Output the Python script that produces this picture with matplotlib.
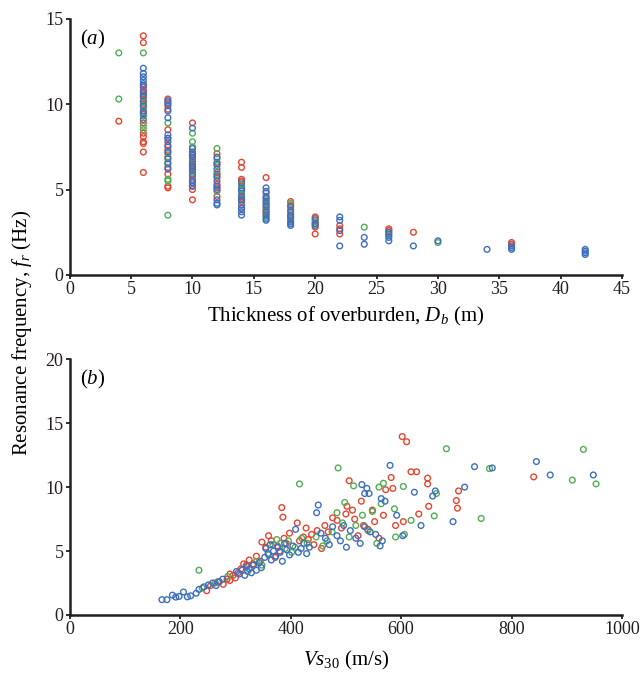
import matplotlib
matplotlib.use('Agg')
import matplotlib.pyplot as plt

# Global font settings (Times-like serif)
plt.rcParams['font.family'] = 'serif'
plt.rcParams['font.serif'] = ['Liberation Serif']
plt.rcParams['mathtext.fontset'] = 'custom'
plt.rcParams['mathtext.rm'] = 'Liberation Serif'
plt.rcParams['mathtext.it'] = 'Liberation Serif:italic'

RED = '#e5452f'
GREEN = '#52ad55'
BLUE = '#3d6fc0'

# ---- Panel (a): thickness of overburden (m) vs resonance frequency (Hz)
a_red_x = [4,
           6, 6, 6, 6, 6, 6, 6, 6, 6, 6, 6, 6, 6, 6, 6,
           8, 8, 8, 8, 8, 8, 8, 8, 8, 8, 8, 8,
           10, 10, 10, 10, 10, 10, 10, 10, 10, 10,
           12, 12, 12, 12, 12, 12, 12,
           14, 14, 14, 14, 14, 14, 14, 14,
           16, 16, 16, 16, 16,
           18, 18, 18, 18,
           20, 20, 20, 20, 20,
           22, 22, 22,
           26, 26, 28, 36, 36]
a_red_y = [9.0,
           14.0, 13.6, 11.1, 10.6, 10.4, 10.0, 8.9, 8.3, 8.1, 7.8, 7.7, 7.2, 6.0, 10.8, 9.4,
           10.3, 10.0, 9.7, 8.5, 8.0, 7.6, 7.3, 6.9, 6.3, 5.9, 5.2, 5.1,
           8.9, 7.1, 6.8, 6.5, 6.2, 5.9, 5.6, 5.2, 5.0, 4.4,
           7.1, 6.6, 6.0, 5.7, 5.3, 5.1, 4.6,
           6.6, 6.3, 5.6, 5.5, 5.0, 4.5, 4.3, 3.9,
           5.7, 4.8, 4.2, 3.8, 3.6,
           4.3, 4.1, 3.7, 3.3,
           3.4, 3.2, 3.0, 2.8, 2.4,
           2.9, 2.7, 2.4,
           2.7, 2.6, 2.5, 1.9, 1.8]

a_green_x = [4, 4,
             6, 6, 6, 6, 6, 6,
             8, 8, 8, 8, 8, 8,
             10, 10, 10, 10, 10,
             12, 12, 12, 12, 12,
             14, 14, 14, 14,
             16, 16, 16,
             18, 18, 18,
             20, 24, 26, 30]
a_green_y = [13.0, 10.3,
             13.0, 10.1, 9.8, 9.3, 8.7, 8.5,
             8.9, 7.1, 6.6, 5.6, 5.5, 3.5,
             8.3, 7.8, 7.5, 6.7, 6.0,
             7.4, 6.8, 6.4, 5.9, 4.9,
             5.3, 5.0, 4.7, 4.4,
             4.4, 3.9, 3.4,
             4.2, 3.6, 3.2,
             3.1, 2.8, 2.3, 1.9]

a_blue_x = [6, 6, 6, 6, 6, 6, 6, 6, 6, 6, 6, 6, 6,
            8, 8, 8, 8, 8, 8, 8, 8, 8, 8, 8, 8, 8,
            10, 10, 10, 10, 10, 10, 10, 10, 10, 10, 10, 10, 10,
            12, 12, 12, 12, 12, 12, 12, 12, 12, 12,
            14, 14, 14, 14, 14, 14, 14, 14, 14,
            16, 16, 16, 16, 16, 16, 16, 16, 16, 16, 16,
            18, 18, 18, 18, 18, 18, 18,
            20, 20, 20,
            22, 22, 22, 22,
            24, 24,
            26, 26, 26, 26,
            28, 30, 34,
            36, 36, 36,
            42, 42, 42, 42]
a_blue_y = [12.1, 11.8, 11.6, 11.4, 11.2, 11.0, 10.7, 10.5, 10.2, 9.9, 9.6, 9.5, 9.1,
            10.2, 10.1, 9.9, 9.6, 9.2, 8.2, 8.0, 7.8, 7.5, 7.2, 6.8, 6.5, 6.2,
            8.6, 7.4, 7.2, 7.0, 6.9, 6.6, 6.4, 6.3, 6.1, 5.8, 5.5, 5.4, 5.2,
            6.9, 6.5, 6.2, 5.8, 5.5, 5.2, 5.0, 4.4, 4.2, 4.1,
            5.4, 5.1, 4.9, 4.6, 4.4, 4.1, 3.9, 3.7, 3.5,
            5.1, 4.9, 4.6, 4.5, 4.3, 4.1, 4.0, 3.7, 3.5, 3.3, 3.2,
            4.0, 3.8, 3.5, 3.4, 3.1, 3.0, 2.9,
            3.3, 3.0, 2.9,
            3.4, 3.2, 2.6, 1.7,
            2.2, 1.8,
            2.5, 2.4, 2.2, 2.0,
            1.7, 2.0, 1.5,
            1.7, 1.6, 1.5,
            1.5, 1.4, 1.3, 1.2]

# ---- Panel (b): Vs30 (m/s) vs resonance frequency (Hz)
b_red_x = [248, 255, 268, 278, 285, 290, 296, 300, 305, 290,
           310, 315, 320, 325, 332, 338, 345, 348, 355, 360, 365, 372, 376, 380,
           388, 384, 386, 392, 398, 412, 416, 423, 428, 432, 438, 442, 448, 456,
           462, 468, 476, 484, 492, 500, 502, 506, 512, 516, 522, 528, 532, 540,
           548, 552, 560, 568, 572, 582, 585, 590, 602, 610, 618, 628, 648, 648,
           650, 700, 702, 704, 632, 604, 840]
b_red_y = [1.9, 2.3, 2.6, 2.4, 2.8, 2.7, 3.1, 2.9, 3.3, 3.2,
           3.6, 4.0, 3.9, 4.3, 4.0, 4.6, 4.2, 5.7, 5.3, 6.2, 5.8, 4.5, 5.4, 5.0,
           6.0, 8.4, 7.65, 5.6, 6.4, 7.2, 5.8, 6.1, 6.8, 5.9, 6.3, 5.5, 6.6, 5.2,
           7.0, 6.5, 7.6, 7.4, 6.8, 7.9, 8.5, 10.5, 8.2, 7.5, 6.2, 8.9, 7.0, 6.7,
           8.2, 7.3, 6.0, 7.8, 9.8, 10.75, 9.9, 7.0, 13.95, 13.55, 11.2, 11.2, 10.7, 10.25,
           8.5, 8.95, 8.35, 9.7, 7.9, 7.3, 10.8]

b_green_x = [234, 240, 264, 286,
             322, 338, 348, 360, 368, 375, 382, 390, 396, 402, 408, 416, 420, 430,
             446, 458, 466, 475, 484, 486, 494, 498, 506, 514, 518, 530, 540, 548,
             556, 560, 564, 568, 588, 590, 604, 606, 618, 660, 664, 682, 745, 760,
             910, 930, 953]
b_green_y = [3.5, 2.1, 2.5, 3.0,
             3.4, 4.2, 3.9, 4.7, 5.5, 5.9, 5.6, 5.2, 5.8, 4.9, 5.3, 10.25, 6.0, 5.6,
             6.1, 5.4, 5.8, 6.5, 8.0, 11.5, 7.2, 8.8, 6.1, 10.1, 7.0, 7.8, 6.6, 8.1,
             5.6, 10.0, 8.7, 10.3, 8.3, 6.1, 10.05, 6.3, 7.4, 7.75, 9.5, 13.0, 7.55, 11.45,
             10.55, 12.95, 10.25]

b_blue_x = [167, 176, 186, 192, 198, 206, 213, 219, 229, 234, 243, 251, 259, 265, 271, 277,
            302, 307, 312, 317, 321, 325, 329, 333, 338, 343, 347, 353, 355, 359, 363, 365,
            369, 373, 377, 381, 385, 389, 393, 398, 404, 409, 414, 419, 424, 429, 434,
            447, 450, 455, 463, 470, 476, 484, 490, 496, 501, 508, 518, 526, 534, 544,
            554, 562, 566, 529, 534, 538, 542, 564, 571, 580, 592, 603, 624, 636, 657,
            662, 694, 715, 733, 765, 845, 870, 948]
b_blue_y = [1.2, 1.2, 1.55, 1.4, 1.45, 1.8, 1.42, 1.5, 1.7, 2.0, 2.2, 2.35, 2.5, 2.3, 2.6, 2.8,
            3.4, 3.2, 3.5, 3.1, 3.8, 3.6, 3.3, 3.9, 3.5, 4.1, 3.7, 4.5, 5.2, 4.8, 5.5, 4.3,
            5.0, 4.6, 5.3, 4.9, 4.2, 5.6, 5.1, 4.7, 5.4, 6.7, 4.9, 5.2, 5.6, 4.8, 5.3,
            8.0, 8.6, 6.4, 6.0, 5.5, 6.9, 6.2, 5.8, 7.0, 5.3, 6.6, 6.0, 5.6, 6.9, 6.5,
            6.3, 5.4, 5.8, 10.2, 9.5, 9.9, 9.5, 9.1, 8.9, 11.7, 7.8, 6.2, 9.6, 7.0, 9.3,
            9.7, 7.3, 10.0, 11.6, 11.5, 12.0, 10.95, 10.95]

a_xticks = [0, 5, 10, 15, 20, 25, 30, 35, 40, 45]
a_yticks = [0, 5, 10, 15]
b_xticks = [0, 200, 400, 600, 800, 1000]
b_yticks = [0, 5, 10, 15, 20]

fig = plt.figure(figsize=(6.43, 6.73), dpi=100)
ax_a = fig.add_axes([0.1084, 0.5914, 0.859, 0.3808])
ax_b = fig.add_axes([0.1084, 0.0862, 0.859, 0.3800])

def style_axis(ax):
    # Only left and bottom spines, thick and dark
    for side in ['top', 'right']:
        ax.spines[side].set_visible(False)
    for side in ['left', 'bottom']:
        ax.spines[side].set_linewidth(1.8)
        ax.spines[side].set_color('#231f20')
    ax.tick_params(direction='out', length=3, width=1.3, colors='#231f20',
                   labelsize=13, pad=1.5)

def scatter_group(ax, xs, ys, color):
    ax.scatter(xs, ys, s=17, facecolors='none', edgecolors=color,
               linewidths=1.0, clip_on=False, zorder=3)

# Panel (a)
scatter_group(ax_a, a_red_x, a_red_y, RED)
scatter_group(ax_a, a_green_x, a_green_y, GREEN)
scatter_group(ax_a, a_blue_x, a_blue_y, BLUE)
ax_a.set_xlim(0, 45)
ax_a.set_ylim(0, 15)
ax_a.set_xticks(a_xticks)
ax_a.set_yticks(a_yticks)
style_axis(ax_a)
ax_a.set_xlabel(r'Thickness of overburden, $D_b$ (m)', fontsize=15, labelpad=5)
ax_a.text(0.018, 0.965, r'($a$)', transform=ax_a.transAxes, fontsize=15,
          ha='left', va='top')

# Panel (b)
scatter_group(ax_b, b_red_x, b_red_y, RED)
scatter_group(ax_b, b_green_x, b_green_y, GREEN)
scatter_group(ax_b, b_blue_x, b_blue_y, BLUE)
ax_b.set_xlim(0, 1000)
ax_b.set_ylim(0, 20)
ax_b.set_xticks(b_xticks)
ax_b.set_yticks(b_yticks)
style_axis(ax_b)
ax_b.set_xlabel(r'$Vs_{30}$ (m/s)', fontsize=15, labelpad=8)
ax_b.text(0.018, 0.965, r'($b$)', transform=ax_b.transAxes, fontsize=15,
          ha='left', va='top')

# Shared y label between the two panels
fig.text(0.034, 0.505, r'Resonance frequency, $f_r$ (Hz)', rotation=90,
         fontsize=15, ha='center', va='center')

fig.savefig('out.png', dpi=100)
